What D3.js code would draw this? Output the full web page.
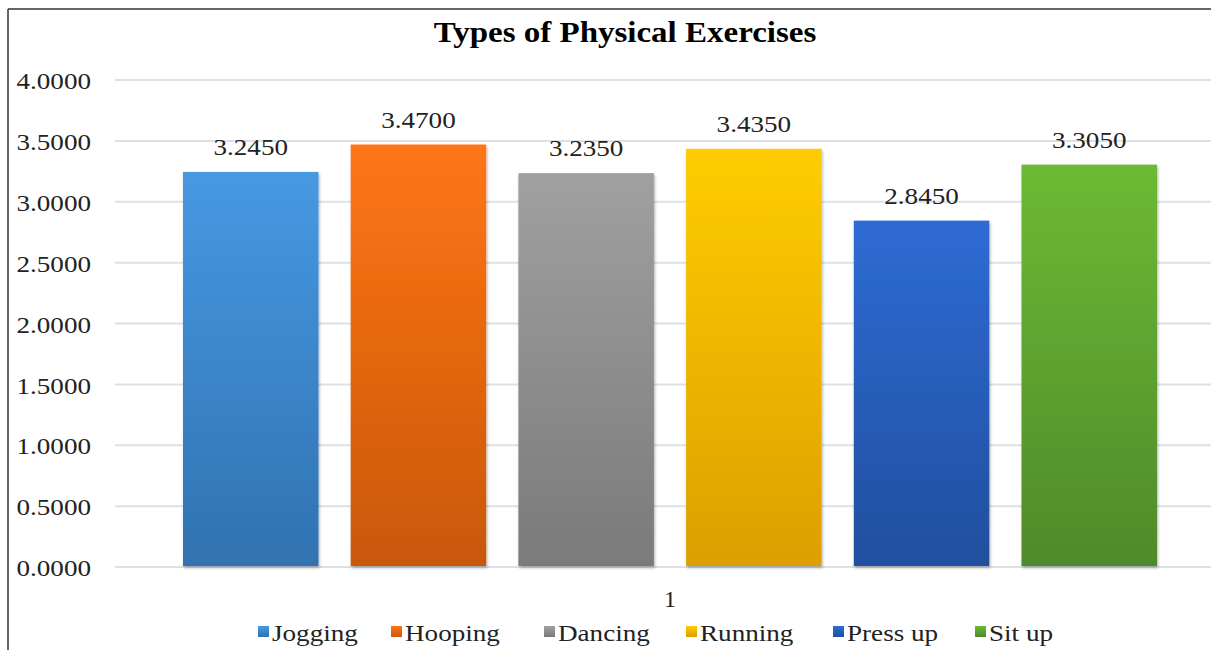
<!DOCTYPE html>
<html><head><meta charset="utf-8">
<script src="https://cdn.jsdelivr.net/npm/d3@7"></script>
<style>
html,body{margin:0;padding:0;background:#fff;}
svg{display:block;font-family:"Liberation Serif","Times New Roman",serif;}
</style></head>
<body>
<svg id="chart" width="1211" height="650"></svg>
<script>
const title = "Types of Physical Exercises";
const categories = ["1"];
const seriesNames = ["Jogging","Hooping","Dancing","Running","Press up","Sit up"];
const seriesValues = [3.245, 3.47, 3.235, 3.435, 2.845, 3.305];
const topColors = ["#4799e3","#ff7514","#a0a0a0","#ffcc00","#2e6bd4","#6cba34"];
const bottomColors = ["#3072b0","#c8580c","#7a7a7a","#dc9f00","#214f9e","#4f8a2a"];
const yTicks = [0,0.5,1,1.5,2,2.5,3,3.5,4];

const svg = d3.select("#chart");
const SX = 1.13;

const defs = svg.append("defs");
seriesNames.forEach((n,i)=>{
  const g = defs.append("linearGradient").attr("id","grad"+i)
    .attr("x1",0).attr("y1",0).attr("x2",0).attr("y2",1);
  g.append("stop").attr("offset","0%").attr("stop-color",topColors[i]);
  g.append("stop").attr("offset","100%").attr("stop-color",bottomColors[i]);
});
const f = defs.append("filter").attr("id","shadow").attr("x","-10%").attr("y","-10%").attr("width","130%").attr("height","130%");
f.append("feDropShadow").attr("dx",1).attr("dy",2).attr("stdDeviation",1.6)
  .attr("flood-color","#000").attr("flood-opacity",0.3);

// frame
svg.append("line").attr("x1",8).attr("x2",1211).attr("y1",9).attr("y2",9)
  .attr("stroke","#333").attr("stroke-width",1.5);
svg.append("line").attr("x1",8).attr("x2",8).attr("y1",9).attr("y2",650)
  .attr("stroke","#333").attr("stroke-width",1.5);

// title
svg.append("text").attr("transform",`translate(625,42) scale(1.1,1)`)
  .attr("text-anchor","middle").attr("font-weight","bold").attr("font-size",30)
  .attr("fill","#000").text(title);

const y = d3.scaleLinear().domain([0,4]).range([567,80]);
const x0 = d3.scaleBand().domain(categories).range([115,1225]);
const x1 = d3.scaleBand().domain(seriesNames).range([183-x0("1"), 1157-x0("1")]).paddingInner(0.192).paddingOuter(0);

// gridlines
svg.append("g").selectAll("line").data(yTicks).join("line")
  .attr("x1",115).attr("x2",1211)
  .attr("y1",d=>y(d)).attr("y2",d=>y(d))
  .attr("stroke","#dde1e6").attr("stroke-width",2);

// y axis
const ax = svg.append("g").attr("transform","translate(115,0)")
  .call(d3.axisLeft(y).tickValues(yTicks).tickFormat(d3.format(".4f")).tickSize(0).tickPadding(0));
ax.select(".domain").remove();
ax.selectAll("text").attr("x",-24/SX).attr("dy","0.36em")
  .attr("transform",`scale(${SX},1)`)
  .attr("font-family","'Liberation Serif','Times New Roman',serif")
  .attr("font-size",24).attr("fill","#222");

// bars
const grp = svg.append("g").selectAll("g").data(categories).join("g")
  .attr("transform",d=>`translate(${x0(d)},0)`);
grp.selectAll("rect").data(seriesNames.map((n,i)=>({n,v:seriesValues[i],i}))).join("rect")
  .attr("x",d=>x1(d.n)).attr("width",x1.bandwidth())
  .attr("y",d=>y(d.v)).attr("height",d=>y(0)-1-y(d.v))
  .attr("fill",d=>`url(#grad${d.i})`).attr("filter","url(#shadow)");
grp.selectAll("text.val").data(seriesNames.map((n,i)=>({n,v:seriesValues[i],i}))).join("text")
  .attr("class","val")
  .attr("transform",d=>`translate(${x1(d.n)+x1.bandwidth()/2},${y(d.v)-17}) scale(${SX},1)`)
  .attr("text-anchor","middle").attr("font-size",24).attr("fill","#222")
  .text(d=>d3.format(".4f")(d.v));

// x axis category label
const xa = svg.append("g").attr("transform",`translate(0,${y(0)})`)
  .call(d3.axisBottom(x0).tickSize(0).tickPadding(0));
xa.select(".domain").remove();
xa.selectAll("text").attr("y",40).attr("dy",0)
  .attr("font-family","'Liberation Serif','Times New Roman',serif")
  .attr("font-size",24).attr("fill","#222")
  .attr("transform",`scale(1,1)`);

// legend
const legendX = [258,391,544,686,833,975];
const lg = svg.append("g").selectAll("g").data(seriesNames).join("g")
  .attr("transform",(d,i)=>`translate(${legendX[i]},0)`);
lg.append("rect").attr("x",0).attr("y",626).attr("width",11).attr("height",11)
  .attr("fill",(d,i)=>`url(#grad${i})`);
lg.append("text").attr("transform",`translate(14,641) scale(${SX},1)`)
  .attr("font-size",24).attr("fill","#222").text(d=>d);
</script>
</body></html>
